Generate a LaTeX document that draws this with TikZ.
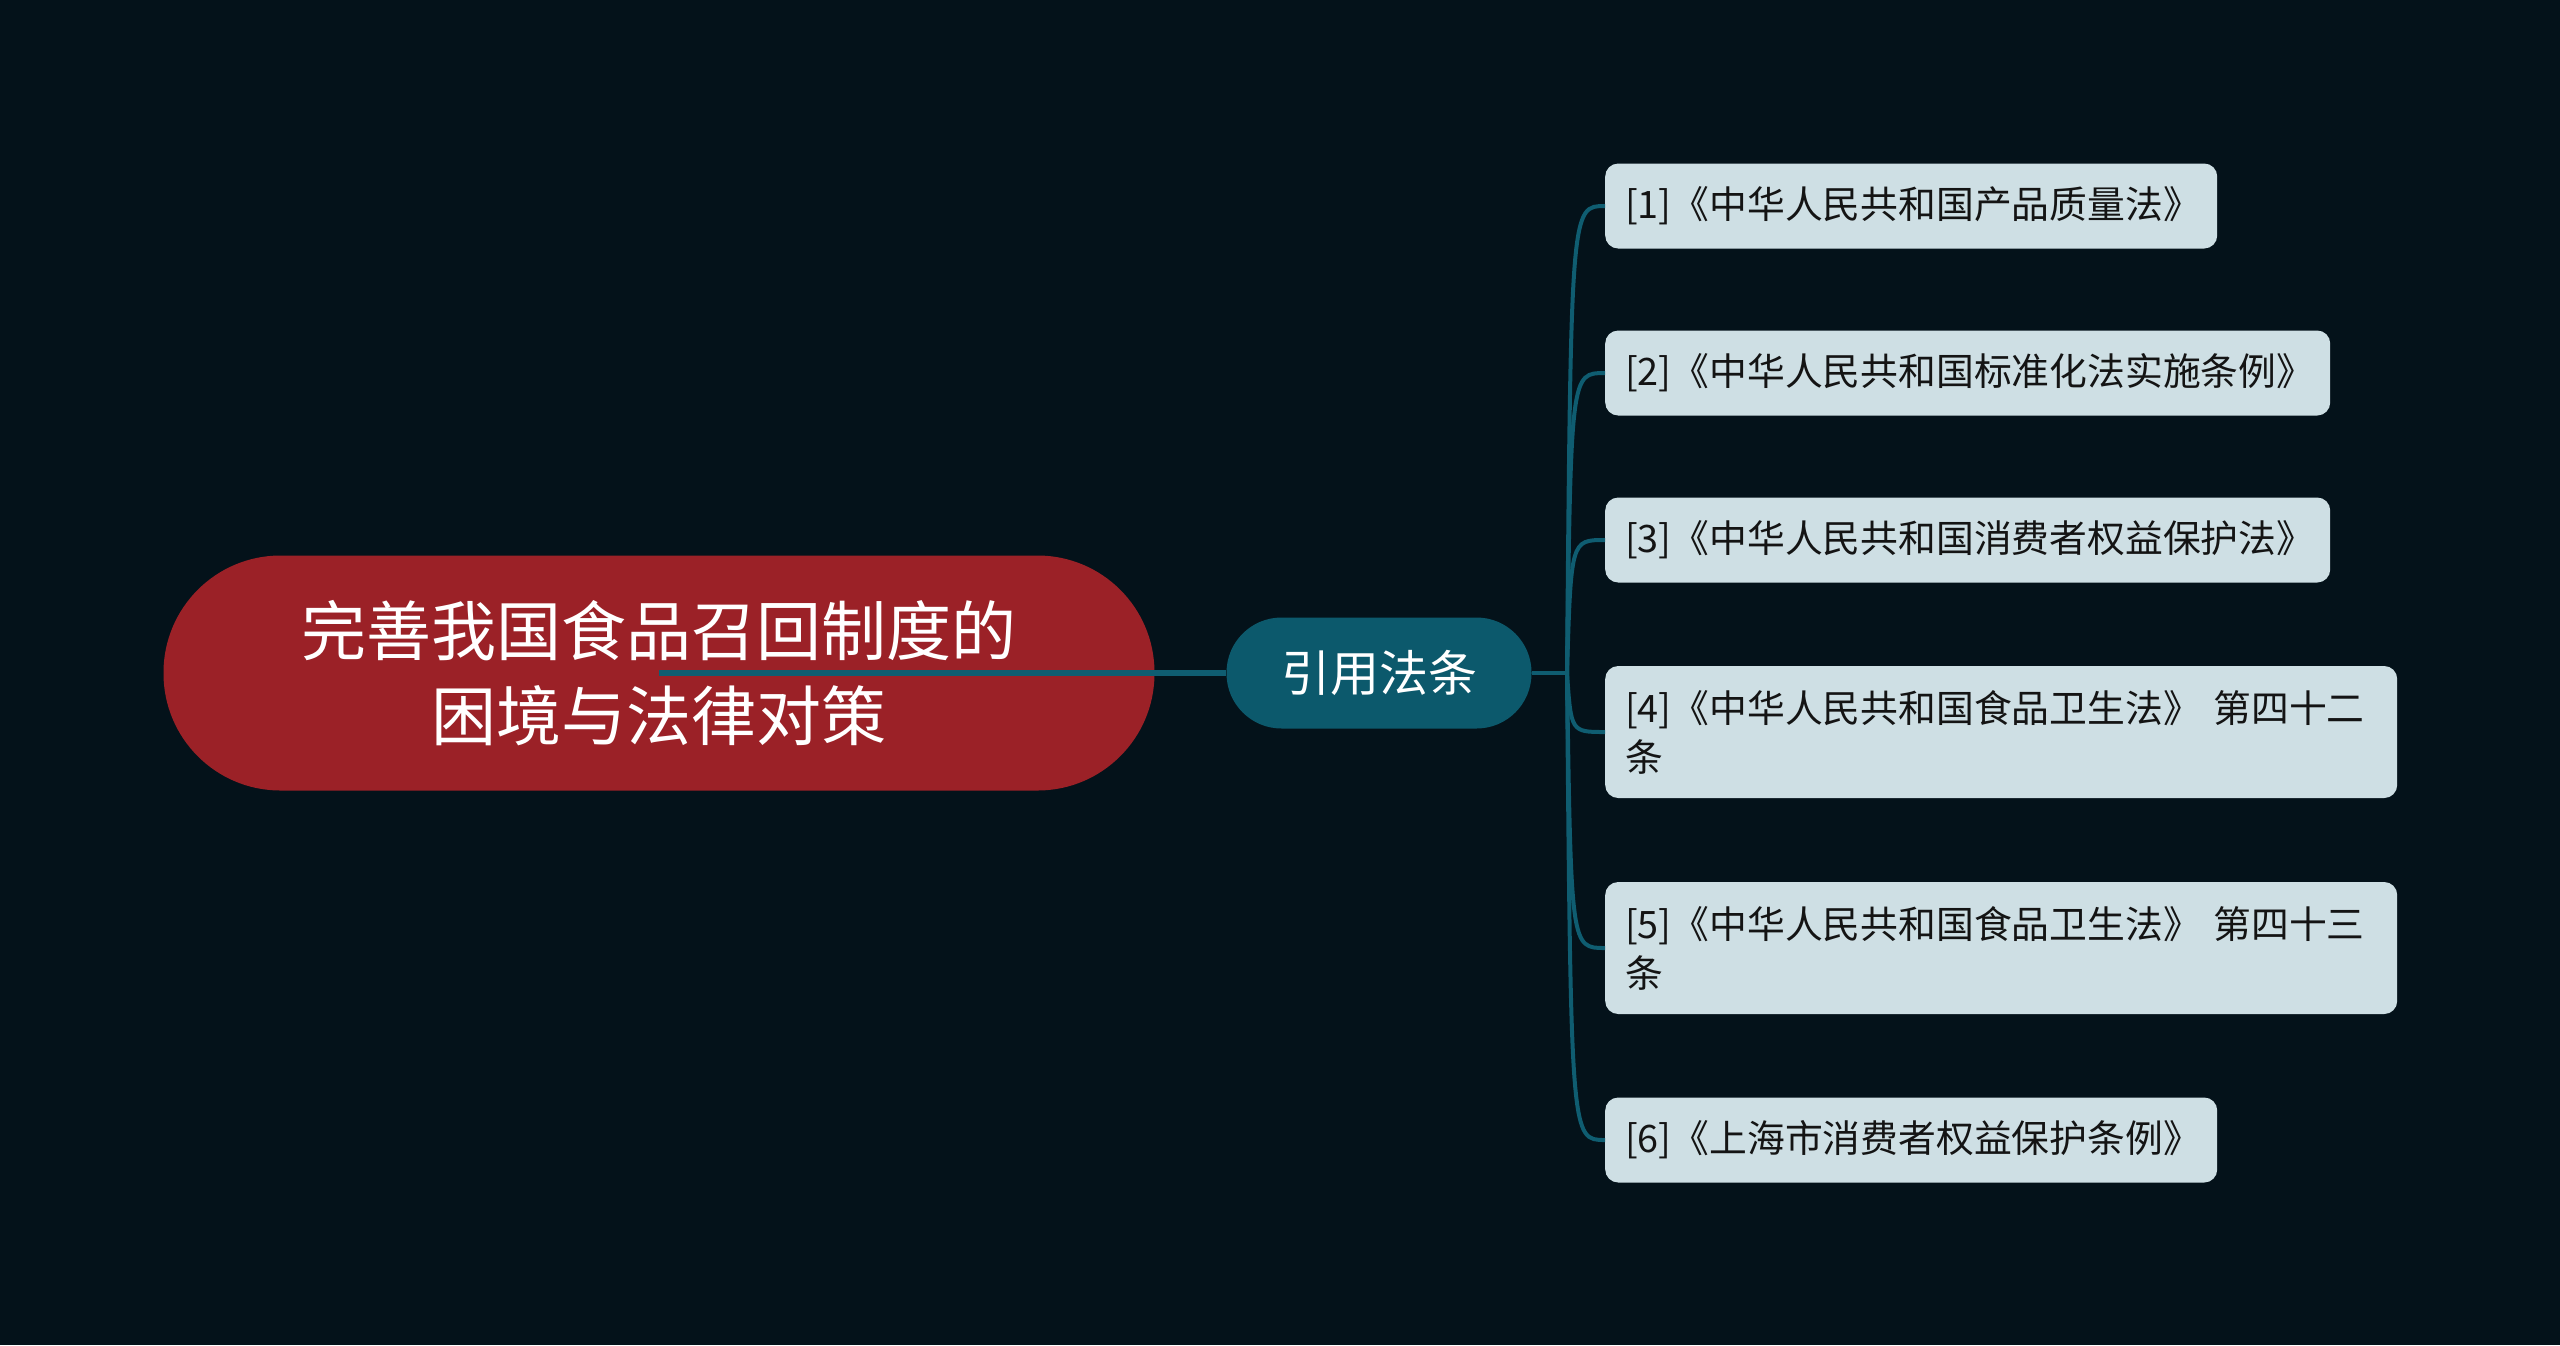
\documentclass[tikz,border=0pt]{standalone}
\usepackage{fontspec}
\setmainfont{Noto Sans CJK SC}
\definecolor{bgdark}{HTML}{04121A}
\definecolor{rootred}{HTML}{9B2127}
\definecolor{tealnode}{HTML}{0C596C}
\definecolor{tealline}{HTML}{0F5D71}
\definecolor{refbox}{HTML}{CEDFE4}
\definecolor{reftext}{HTML}{141414}

\begin{document}
\begin{tikzpicture}[x=1pt, y=-1pt,
    pill/.style = {inner sep=0pt, align=center, text=white},
    refnode/.style = {fill=refbox, rounded corners=13pt, anchor=west, align=left,
        inner xsep=20pt, inner ysep=0pt, minimum height=85pt, text=reftext,
        font=\fontsize{37.8}{49}\selectfont},
    link/.style = {draw=tealline, line width=4pt}]
    \fill [bgdark] (0,0) rectangle (2560,1345);
    \useasboundingbox (0,0) rectangle (2560,1345);

    \node [pill, fill=rootred, rounded corners=117pt, minimum width=991pt, minimum height=235pt,
        font=\fontsize{65}{85}\selectfont] (R) at (659,673)
        {完善我国食品召回制度的\\困境与法律对策};
    \node [pill, fill=tealnode, rounded corners=55pt, minimum width=305pt, minimum height=111pt,
        font=\fontsize{49}{60}\selectfont] (Y) at (1379,673) {引用法条};

    \node [refnode, text width=572pt] (L1) at (1605,206) {[1]《中华人民共和国产品质量法》};
    \node [refnode, text width=685pt] (L2) at (1605,373) {[2]《中华人民共和国标准化法实施条例》};
    \node [refnode, text width=685pt] (L3) at (1605,540) {[3]《中华人民共和国消费者权益保护法》};
    \node [refnode, text width=752pt, minimum height=132pt] (L4) at (1605,732)
        {[4]《中华人民共和国食品卫生法》 第四十二\\条};
    \node [refnode, text width=752pt, minimum height=132pt] (L5) at (1605,948)
        {[5]《中华人民共和国食品卫生法》 第四十三\\条};
    \node [refnode, text width=572pt] (L6) at (1605,1140) {[6]《上海市消费者权益保护条例》};

    \coordinate (H) at (1567,673);
    \draw [link, line width=6pt] (R.center) -- (Y.west);
    \draw [link] (Y.east) -- (H);
    \draw [link] (H) .. controls (1571,206) .. (L1.west);
    \draw [link] (H) .. controls (1571,373) .. (L2.west);
    \draw [link] (H) .. controls (1571,540) .. (L3.west);
    \draw [link] (H) .. controls (1571,732) .. (L4.west);
    \draw [link] (H) .. controls (1571,948) .. (L5.west);
    \draw [link] (H) .. controls (1571,1140) .. (L6.west);
\end{tikzpicture}
\end{document}
